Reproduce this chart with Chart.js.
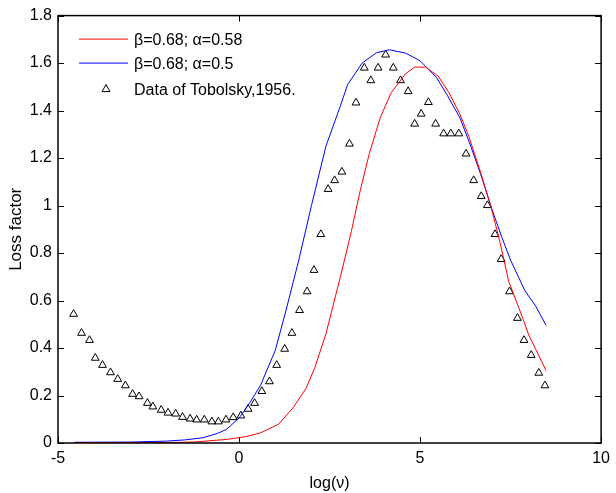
<!DOCTYPE html>
<html>
<head>
<meta charset="utf-8">
<script src="https://cdn.jsdelivr.net/npm/chart.js@4.4.1/dist/chart.umd.min.js"></script>
<style>
  html, body { margin: 0; padding: 0; background: #fff; }
  #wrap { width: 616px; height: 493px; }
</style>
</head>
<body>
<div id="wrap"><canvas id="chart" width="616" height="493"></canvas></div>
<script>
// Model curve beta=0.68; alpha=0.58
const redX = [-4.55, -2, -1.25, -0.35, 0.2, 0.6, 1.1, 1.5, 1.85, 2.1, 2.4, 2.8, 3.1, 3.35, 3.6, 3.9, 4.2, 4.6, 4.85, 5.15, 5.5, 5.8, 6.1, 6.35, 6.65, 6.95, 7.2, 7.45, 7.85, 8.0, 8.48];
const redY = [0.002, 0.002, 0.004, 0.015, 0.027, 0.043, 0.08, 0.15, 0.23, 0.32, 0.46, 0.70, 0.89, 1.065, 1.22, 1.37, 1.475, 1.555, 1.583, 1.583, 1.545, 1.475, 1.385, 1.29, 1.15, 1.0, 0.85, 0.68, 0.52, 0.455, 0.305];

// Model curve beta=0.68; alpha=0.5
const blueX = [-4.55, -3, -2, -1.5, -1, -0.6, -0.35, 0, 0.3, 0.6, 1.0, 1.3, 1.65, 2.0, 2.4, 2.8, 3.0, 3.4, 3.8, 4.15, 4.6, 5.0, 5.45, 5.75, 6.1, 6.4, 6.7, 6.95, 7.25, 7.5, 7.9, 8.2, 8.48];
const blueY = [0.003, 0.004, 0.008, 0.013, 0.022, 0.04, 0.057, 0.105, 0.17, 0.245, 0.39, 0.56, 0.77, 1.0, 1.25, 1.42, 1.51, 1.60, 1.644, 1.656, 1.642, 1.61, 1.54, 1.465, 1.37, 1.25, 1.12, 1.0, 0.87, 0.77, 0.64, 0.575, 0.495];

// Data of Tobolsky, 1956
const dataX = [-4.57, -4.35, -4.13, -3.97, -3.77, -3.55, -3.35, -3.14, -2.94, -2.76, -2.53, -2.38, -2.15, -1.96, -1.75, -1.56, -1.35, -1.17, -0.96, -0.75, -0.57, -0.36, -0.16, 0.05, 0.25, 0.43, 0.63, 0.84, 1.04, 1.26, 1.46, 1.67, 1.88, 2.07, 2.26, 2.46, 2.64, 2.84, 3.05, 3.23, 3.46, 3.64, 3.84, 4.05, 4.26, 4.46, 4.67, 4.85, 5.03, 5.23, 5.43, 5.65, 5.85, 6.07, 6.27, 6.48, 6.69, 6.86, 7.07, 7.24, 7.47, 7.69, 7.87, 8.07, 8.28, 8.45];
const dataY = [0.543, 0.463, 0.433, 0.358, 0.328, 0.297, 0.269, 0.242, 0.206, 0.196, 0.168, 0.153, 0.139, 0.127, 0.123, 0.109, 0.102, 0.098, 0.098, 0.090, 0.090, 0.098, 0.108, 0.115, 0.143, 0.168, 0.218, 0.259, 0.328, 0.396, 0.463, 0.559, 0.638, 0.728, 0.879, 1.069, 1.106, 1.142, 1.260, 1.433, 1.580, 1.527, 1.580, 1.635, 1.580, 1.527, 1.481, 1.344, 1.386, 1.435, 1.344, 1.303, 1.303, 1.303, 1.218, 1.106, 1.039, 1.001, 0.879, 0.774, 0.638, 0.526, 0.433, 0.370, 0.295, 0.242];

const xTicks = [-5, 0, 5, 10];
const yTicks = [0, 0.2, 0.4, 0.6, 0.8, 1, 1.2, 1.4, 1.6, 1.8];

const legendLabels = ['\u03B2=0.68; \u03B1=0.58', '\u03B2=0.68; \u03B1=0.5', 'Data of Tobolsky,1956.'];

const FONT = 'Liberation Sans, Arial, Helvetica, sans-serif';

function toPoints(xs, ys) {
  return xs.map((x, i) => ({ x, y: ys[i] }));
}

// matlab-like box with inward ticks on all four sides
const framePlugin = {
  id: 'frame',
  afterDatasetsDraw(chart) {
    const { ctx, chartArea: a, scales } = chart;
    ctx.save();
    ctx.strokeStyle = '#000';
    ctx.lineWidth = 1;
    const len = 6;
    ctx.beginPath();
    xTicks.forEach((v) => {
      const px = Math.round(scales.x.getPixelForValue(v)) + 0.5;
      ctx.moveTo(px, a.bottom); ctx.lineTo(px, a.bottom - len);
      ctx.moveTo(px, a.top); ctx.lineTo(px, a.top + len);
    });
    yTicks.forEach((v) => {
      const py = Math.round(scales.y.getPixelForValue(v)) + 0.5;
      ctx.moveTo(a.left, py); ctx.lineTo(a.left + len, py);
      ctx.moveTo(a.right, py); ctx.lineTo(a.right - len, py);
    });
    ctx.stroke();
    ctx.lineWidth = 1.5;
    ctx.strokeRect(a.left, a.top, a.right - a.left, a.bottom - a.top);
    ctx.restore();
  }
};

// legend box in the upper left of the axes
const legendPlugin = {
  id: 'insideLegend',
  afterDraw(chart) {
    const { ctx, chartArea: a } = chart;
    const x0 = a.left + 21;
    const textX = a.left + 76;
    const rows = [a.top + 23, a.top + 47, a.top + 73];
    ctx.save();
    ctx.font = '16px ' + FONT;
    ctx.textBaseline = 'middle';
    ctx.fillStyle = '#000';
    ctx.lineWidth = 1;
    ['#ff0000', '#0000ff'].forEach((c, i) => {
      ctx.strokeStyle = c;
      ctx.beginPath();
      ctx.moveTo(x0, rows[i] + 0.5);
      ctx.lineTo(x0 + 49, rows[i] + 0.5);
      ctx.stroke();
    });
    // triangle marker
    const tx = x0 + 27, ty = rows[2];
    ctx.strokeStyle = '#000';
    ctx.beginPath();
    ctx.moveTo(tx, ty - 4);
    ctx.lineTo(tx + 4, ty + 3);
    ctx.lineTo(tx - 4, ty + 3);
    ctx.closePath();
    ctx.stroke();
    legendLabels.forEach((t, i) => ctx.fillText(t, textX, rows[i] + 2));
    ctx.restore();
  }
};

new Chart(document.getElementById('chart'), {
  type: 'scatter',
  data: {
    datasets: [
      {
        label: legendLabels[0],
        data: toPoints(redX, redY),
        showLine: true,
        borderColor: '#ff0000',
        borderWidth: 1,
        pointRadius: 0,
        tension: 0
      },
      {
        label: legendLabels[1],
        data: toPoints(blueX, blueY),
        showLine: true,
        borderColor: '#0000ff',
        borderWidth: 1,
        pointRadius: 0,
        tension: 0
      },
      {
        label: legendLabels[2],
        data: toPoints(dataX, dataY),
        showLine: false,
        pointStyle: 'triangle',
        pointRadius: 4.5,
        borderColor: '#000',
        backgroundColor: 'rgba(255,255,255,0)',
        borderWidth: 1
      }
    ]
  },
  options: {
    responsive: false,
    animation: false,
    layout: { padding: { top: 14, right: 14, left: 0, bottom: 0 } },
    plugins: {
      legend: { display: false },
      tooltip: { enabled: false }
    },
    scales: {
      x: {
        type: 'linear',
        min: -5,
        max: 10,
        afterBuildTicks: (scale) => { scale.ticks = xTicks.map((v) => ({ value: v })); },
        grid: { display: false, drawTicks: false },
        border: { display: false },
        ticks: { color: '#000', padding: 6, font: { family: FONT, size: 16 } },
        title: {
          display: true,
          text: 'log(\u03BD)',
          color: '#000',
          padding: { top: 0, bottom: 0 },
          font: { family: FONT, size: 16 }
        },
        afterFit: (scale) => { scale.height = 50; }
      },
      y: {
        min: 0,
        max: 1.8,
        afterBuildTicks: (scale) => { scale.ticks = yTicks.map((v) => ({ value: v })); },
        grid: { display: false, drawTicks: false },
        border: { display: false },
        ticks: {
          color: '#000',
          padding: 6,
          font: { family: FONT, size: 16 },
          callback: (v) => String(Math.round(v * 10) / 10)
        },
        title: {
          display: true,
          text: 'Loss factor',
          color: '#000',
          padding: { top: 6, bottom: 0 },
          font: { family: FONT, size: 17 }
        },
        afterFit: (scale) => { scale.width = 58; }
      }
    }
  },
  plugins: [framePlugin, legendPlugin]
});
</script>
</body>
</html>
